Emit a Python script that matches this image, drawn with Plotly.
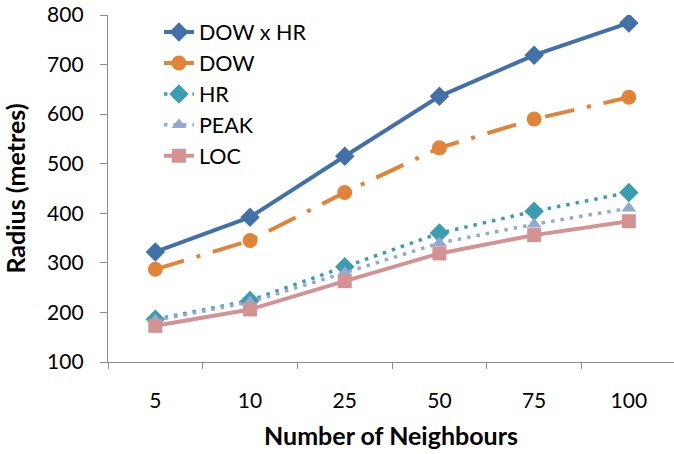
import plotly.graph_objects as go

categories = ["5", "10", "25", "50", "75", "100"]
dow_x_hr = [322, 392, 515, 636, 719, 784]
dow = [287, 345, 442, 532, 590, 634]
hr = [186, 224, 292, 360, 404, 442]
peak = [184, 221, 280, 340, 378, 410]
loc = [173, 206, 263, 319, 356, 384]

FONT = "Lato"
fig = go.Figure()

fig.add_trace(go.Scatter(x=categories, y=dow_x_hr, name="DOW x HR", mode="lines+markers",
                         line=dict(color="#4470A8", width=4),
                         marker=dict(symbol="diamond", size=15, color="#4470A8")))
fig.add_trace(go.Scatter(x=categories, y=dow, name="DOW", mode="lines+markers",
                         line=dict(color="#E0843A", width=4, dash="30px,13px,4px,13px"),
                         marker=dict(symbol="circle", size=15, color="#E0843A")))
fig.add_trace(go.Scatter(x=categories, y=hr, name="HR", mode="lines+markers",
                         line=dict(color="#3D9CB0", width=3.5, dash="3.5px,6px"),
                         marker=dict(symbol="diamond", size=15, color="#3D9CB0")))
fig.add_trace(go.Scatter(x=categories, y=peak, name="PEAK", mode="lines+markers",
                         line=dict(color="#94A8D0", width=3.5, dash="3.5px,6px"),
                         marker=dict(symbol="triangle-up", size=13, color="#94A8D0")))
fig.add_trace(go.Scatter(x=categories, y=loc, name="LOC", mode="lines+markers",
                         line=dict(color="#D39294", width=4),
                         marker=dict(symbol="square", size=14, color="#D39294")))

fig.update_layout(
    width=674, height=454,
    margin=dict(l=108, r=0, t=15, b=92),
    paper_bgcolor="white", plot_bgcolor="white",
    font=dict(family=FONT, size=21, color="#000000"),
    showlegend=True,
    legend=dict(x=0.09, y=1.01, xanchor="left", yanchor="top",
                font=dict(family=FONT, size=21.5, color="#000000"),
                bgcolor="rgba(0,0,0,0)", tracegroupgap=0, itemwidth=30),
    xaxis=dict(type="category", range=[-0.5, 5.477], showline=True, linecolor="#8C8C8C",
               linewidth=1.3, ticks="outside", tickson="boundaries", ticklen=6,
               tickcolor="#8C8C8C", showgrid=False, zeroline=False, automargin=False,
               ticklabelstandoff=20,
               tickfont=dict(family=FONT, size=21),
               title=dict(text="<b>Number of Neighbours</b>", font=dict(family=FONT, size=25), standoff=16)),
    yaxis=dict(range=[100, 800], dtick=100, showline=True, linecolor="#8C8C8C", linewidth=1.3,
               ticks="outside", ticklen=7, tickcolor="#8C8C8C", showgrid=False, zeroline=False,
               automargin=False, ticklabelstandoff=12,
               tickfont=dict(family=FONT, size=21),
               title=dict(text="<b>Radius (metres)</b>", font=dict(family=FONT, size=25), standoff=16)),
)

fig.write_html("out.html", config={"displayModeBar": False},
               post_script="document.body.style.margin='0';document.body.style.overflow='hidden';")
